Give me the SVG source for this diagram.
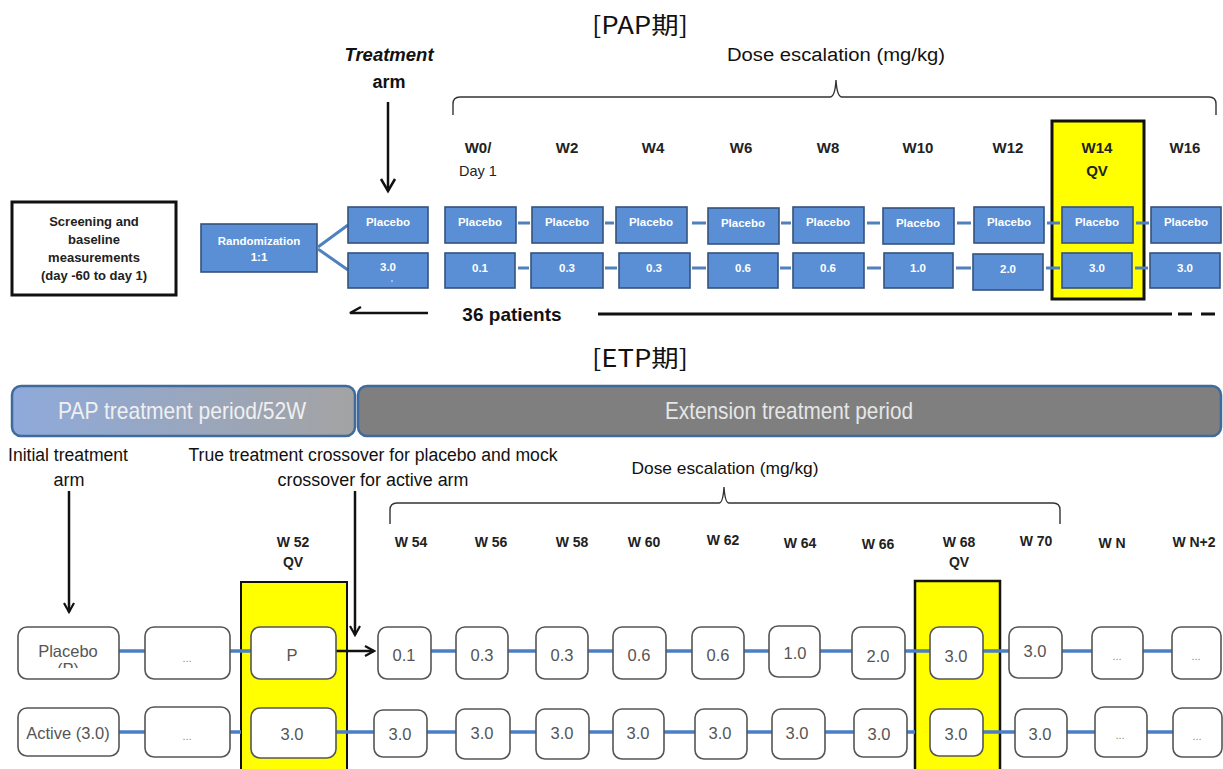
<svg xmlns="http://www.w3.org/2000/svg" width="1223" height="769" viewBox="0 0 1223 769">
<defs>
<style>
.t{font-family:"Liberation Sans",Arial,sans-serif;}
.cjk{font-family:"Noto Sans CJK JP","Noto Sans CJK SC",sans-serif;font-size:24px;fill:#111;}
.bb{fill:#5a8fd5;stroke:#34527c;stroke-width:1.6;}
.bt{font-family:"Liberation Sans",Arial,sans-serif;font-weight:bold;font-size:11.5px;fill:#fff;text-anchor:middle;}
.wh{font-family:"Liberation Sans",Arial,sans-serif;font-weight:bold;font-size:15px;fill:#222;text-anchor:middle;}
.wb{font-family:"Liberation Sans",Arial,sans-serif;font-weight:bold;font-size:14px;fill:#222;text-anchor:middle;}
.rb{fill:#fff;stroke:#555;stroke-width:1.6;}
.rt{font-family:"Liberation Sans",Arial,sans-serif;font-size:16.5px;fill:#555;text-anchor:middle;}
.dots{font-family:"Liberation Sans",Arial,sans-serif;font-size:11px;fill:#888;text-anchor:middle;}
.tc{stroke:#4f81bd;stroke-width:3;}
.bc{stroke:#4a7ec6;stroke-width:3.5;}
.yel{fill:#ffff00;stroke:#111;}
.arr{stroke:#111;stroke-width:2.5;fill:none;}
.brace{stroke:#333;stroke-width:1.4;fill:none;}
</style>
<linearGradient id="papg" x1="0" y1="0" x2="1" y2="0">
<stop offset="0" stop-color="#8eaadb"/>
<stop offset="1" stop-color="#a3a3a3"/>
</linearGradient>
<marker id="chev" viewBox="0 0 12 12" refX="10" refY="6" markerWidth="12" markerHeight="12" markerUnits="userSpaceOnUse" orient="auto">
<path d="M1,1 L10,6 L1,11" fill="none" stroke="#111" stroke-width="2.2"/>
</marker>
<clipPath id="pclip"><rect x="18" y="600" width="101" height="68"/></clipPath>
</defs>

<!-- ============ PAP period ============ -->
<text class="cjk" x="640" y="34" text-anchor="middle" textLength="96" lengthAdjust="spacingAndGlyphs">[PAP期]</text>

<g id="treatment-arm-label">
<text class="t" x="389" y="61" text-anchor="middle" font-weight="bold" font-style="italic" font-size="18.5" fill="#111">Treatment</text>
<text class="t" x="389" y="88" text-anchor="middle" font-weight="bold" font-size="18" fill="#111">arm</text>
</g>

<g id="dose-escalation-top">
<text class="t" x="836" y="61" text-anchor="middle" font-size="18" fill="#111" textLength="218" lengthAdjust="spacingAndGlyphs">Dose escalation (mg/kg)</text>
<path class="brace" d="M453,115 L453,104 Q453,97 460,97 L830,97 Q835,97 836,80 Q837,97 842,97 L1209,97 Q1216,97 1216,104 L1216,115"/>
</g>

<g id="screening">
<rect x="12" y="202" width="164" height="93" fill="#fff" stroke="#111" stroke-width="3"/>
<g class="t" font-weight="bold" font-size="13" fill="#222" text-anchor="middle">
<text x="94" y="226">Screening and</text>
<text x="94" y="244">baseline</text>
<text x="94" y="262">measurements</text>
<text x="94" y="280">(day -60 to day 1)</text>
</g>
</g>

<g id="randomization">
<rect class="bb" x="201" y="224" width="116" height="48"/>
<text class="bt" x="259" y="245" font-size="11">Randomization</text>
<text class="bt" x="259" y="261">1:1</text>
</g>

<!-- highlight W14 -->
<rect class="yel" x="1052" y="121" width="92" height="178" stroke-width="3"/>

<g id="top-headers">
<text class="wh" x="478" y="153">W0/</text>
<text class="t" x="478" y="176" text-anchor="middle" font-size="14.5" fill="#222">Day 1</text>
<text class="wh" x="567" y="153">W2</text>
<text class="wh" x="653" y="153">W4</text>
<text class="wh" x="741" y="153">W6</text>
<text class="wh" x="828" y="153">W8</text>
<text class="wh" x="918" y="153">W10</text>
<text class="wh" x="1008" y="153">W12</text>
<text class="wh" x="1097" y="153">W14</text>
<text class="wh" x="1097" y="176">QV</text>
<text class="wh" x="1185" y="153">W16</text>
</g>

<g id="top-connectors">
<path class="tc" d="M318,247 L348,225 M318,249 L348,270"/>
<path class="tc" d="M518,223 H530 M605,223 H614 M692,223 H706 M781,223 H791 M867,223 H880 M957,223 H971 M1047,223 H1060 M1136,223 H1149"/>
<path class="tc" d="M518,268 H529 M605,268 H617 M692,268 H706 M780,268 H791 M867,268 H881 M956,268 H971 M1046,268 H1060 M1135,268 H1148"/>
<path class="arr" d="M388,102 V191"/>
<path class="arr" d="M381,179 L388,191 L395,179" stroke-width="3"/>
<path class="arr" d="M428,313 H350 L361,307"/>
<path d="M598,314 H1172" stroke="#111" stroke-width="2.8"/>
<path d="M1178,314 H1192 M1201,314 H1215" stroke="#111" stroke-width="2.8"/>
</g>

<g id="arm-placebo"><rect class="bb" x="348" y="207" width="80" height="36"/><text class="bt" x="388" y="226">Placebo</text></g>
<g id="arm-active"><rect class="bb" x="348" y="253" width="80" height="35"/><text class="bt" x="388" y="271">3.0</text><circle cx="392" cy="281" r="0.8" fill="#fff"/></g>

<g id="top-w0"><rect class="bb" x="445" y="207" width="71" height="36"/><text class="bt" x="480" y="226">Placebo</text><rect class="bb" x="445" y="253" width="70" height="35"/><text class="bt" x="480" y="272">0.1</text></g>
<g id="top-w2"><rect class="bb" x="532" y="207" width="71" height="36"/><text class="bt" x="567" y="226">Placebo</text><rect class="bb" x="531" y="253" width="72" height="35"/><text class="bt" x="567" y="272">0.3</text></g>
<g id="top-w4"><rect class="bb" x="616" y="207" width="71" height="36"/><text class="bt" x="651" y="226">Placebo</text><rect class="bb" x="619" y="253" width="71" height="35"/><text class="bt" x="654" y="272">0.3</text></g>
<g id="top-w6"><rect class="bb" x="708" y="208" width="71" height="36"/><text class="bt" x="743" y="227">Placebo</text><rect class="bb" x="708" y="253" width="70" height="35"/><text class="bt" x="743" y="272">0.6</text></g>
<g id="top-w8"><rect class="bb" x="793" y="207" width="71" height="36"/><text class="bt" x="828" y="226">Placebo</text><rect class="bb" x="793" y="253" width="71" height="35"/><text class="bt" x="828" y="272">0.6</text></g>
<g id="top-w10"><rect class="bb" x="883" y="208" width="71" height="36"/><text class="bt" x="918" y="227">Placebo</text><rect class="bb" x="884" y="253" width="69" height="35"/><text class="bt" x="918" y="272">1.0</text></g>
<g id="top-w12"><rect class="bb" x="974" y="207" width="70" height="36"/><text class="bt" x="1009" y="226">Placebo</text><rect class="bb" x="973" y="254" width="70" height="36"/><text class="bt" x="1008" y="273">2.0</text></g>
<g id="top-w14"><rect class="bb" x="1062" y="207" width="71" height="36"/><text class="bt" x="1097" y="226">Placebo</text><rect class="bb" x="1062" y="253" width="70" height="35"/><text class="bt" x="1097" y="272">3.0</text></g>
<g id="top-w16"><rect class="bb" x="1151" y="207" width="70" height="36"/><text class="bt" x="1186" y="226">Placebo</text><rect class="bb" x="1150" y="253" width="70" height="35"/><text class="bt" x="1185" y="272">3.0</text></g>

<text class="t" x="512" y="321" text-anchor="middle" font-weight="bold" font-size="19" fill="#111">36 patients</text>

<!-- ============ ETP period ============ -->
<text class="cjk" x="640" y="367" text-anchor="middle" textLength="96" lengthAdjust="spacingAndGlyphs">[ETP期]</text>

<g id="pap-bar">
<rect x="12" y="386" width="343" height="50" rx="9" fill="url(#papg)" stroke="#3f6a9b" stroke-width="2.5"/>
<text class="t" x="182" y="419" text-anchor="middle" font-size="24" fill="#f0f0f0" textLength="248" lengthAdjust="spacingAndGlyphs">PAP treatment period/52W</text>
</g>
<g id="ext-bar">
<rect x="358" y="386" width="863" height="50" rx="9" fill="#7f7f7f" stroke="#3f6a9b" stroke-width="2.5"/>
<text class="t" x="789" y="419" text-anchor="middle" font-size="24" fill="#e6e6e6" textLength="248" lengthAdjust="spacingAndGlyphs">Extension treatment period</text>
</g>

<g id="initial-arm-label">
<text class="t" x="68" y="461" text-anchor="middle" font-size="18" fill="#111" textLength="120" lengthAdjust="spacingAndGlyphs">Initial treatment</text>
<text class="t" x="69" y="486" text-anchor="middle" font-size="18" fill="#111" textLength="31" lengthAdjust="spacingAndGlyphs">arm</text>
</g>
<g id="crossover-label">
<text class="t" x="373" y="461" text-anchor="middle" font-size="18" fill="#111" textLength="369" lengthAdjust="spacingAndGlyphs">True treatment crossover for placebo and mock</text>
<text class="t" x="373" y="486" text-anchor="middle" font-size="18" fill="#111" textLength="191" lengthAdjust="spacingAndGlyphs">crossover for active arm</text>
</g>
<g id="dose-escalation-bottom">
<text class="t" x="725" y="474" text-anchor="middle" font-size="17" fill="#111" textLength="187" lengthAdjust="spacingAndGlyphs">Dose escalation (mg/kg)</text>
<path class="brace" d="M390,524 L390,510 Q390,503 397,503 L719,503 Q723,503 724,487 Q725,503 729,503 L1053,503 Q1060,503 1060,510 L1060,524"/>
</g>

<g id="bottom-headers">
<text class="wb" x="293" y="547">W 52</text>
<text class="wb" x="293" y="567">QV</text>
<text class="wb" x="411" y="547">W 54</text>
<text class="wb" x="491" y="547">W 56</text>
<text class="wb" x="572" y="547">W 58</text>
<text class="wb" x="644" y="547">W 60</text>
<text class="wb" x="723" y="545">W 62</text>
<text class="wb" x="800" y="548">W 64</text>
<text class="wb" x="878" y="549">W 66</text>
<text class="wb" x="959" y="547">W 68</text>
<text class="wb" x="959" y="567">QV</text>
<text class="wb" x="1036" y="546">W 70</text>
<text class="wb" x="1112" y="548">W N</text>
<text class="wb" x="1194" y="547">W N+2</text>
</g>

<!-- highlights W52, W68 -->
<rect class="yel" x="241" y="582" width="106" height="190" stroke-width="2"/>
<rect class="yel" x="915" y="581" width="85" height="191" stroke-width="2.5"/>

<g id="bottom-connectors">
<path class="bc" d="M119,651 H145 M230,651 H251 M431,651 H456 M508,651 H536 M588,651 H613 M666,651 H692 M744,651 H769 M820,651 H852 M905,651 H930 M983,651 H1009 M1062,651 H1092 M1143,651 H1172"/>
<path class="bc" d="M119,732 H145 M230,732 H241 M336,732 H374 M427,732 H456 M510,732 H536 M589,732 H613 M664,732 H695 M747,732 H772 M825,732 H854 M907,732 H915 M983,732 H1015 M1067,732 H1095 M1147,732 H1173"/>
<path class="arr" d="M336,651 H374" marker-end="url(#chev)"/>
<path class="arr" d="M69,491 V612" marker-end="url(#chev)"/>
<path class="arr" d="M355,491 V635" marker-end="url(#chev)"/>
</g>

<g id="b-placebo"><rect class="rb" x="18" y="627" width="101" height="52" rx="9"/><text class="rt" x="68" y="657" font-size="15">Placebo</text><text class="rt" x="68" y="675" font-size="13" clip-path="url(#pclip)">(P)</text></g>
<g id="b-dots1"><rect class="rb" x="145" y="627" width="85" height="52" rx="9"/><text class="dots" x="187" y="662">...</text></g>
<g id="b-p"><rect class="rb" x="251" y="627" width="85" height="52" rx="9"/><text class="rt" x="292" y="661">P</text></g>
<g id="b-w54"><rect class="rb" x="378" y="627" width="53" height="52" rx="9"/><text class="rt" x="404" y="661">0.1</text></g>
<g id="b-w56"><rect class="rb" x="456" y="627" width="52" height="52" rx="9"/><text class="rt" x="482" y="661">0.3</text></g>
<g id="b-w58"><rect class="rb" x="536" y="627" width="52" height="52" rx="9"/><text class="rt" x="562" y="661">0.3</text></g>
<g id="b-w60"><rect class="rb" x="613" y="627" width="53" height="52" rx="9"/><text class="rt" x="639" y="661">0.6</text></g>
<g id="b-w62"><rect class="rb" x="692" y="627" width="52" height="52" rx="9"/><text class="rt" x="718" y="661">0.6</text></g>
<g id="b-w64"><rect class="rb" x="769" y="626" width="51" height="51" rx="9"/><text class="rt" x="795" y="659">1.0</text></g>
<g id="b-w66"><rect class="rb" x="852" y="627" width="53" height="52" rx="9"/><text class="rt" x="878" y="662">2.0</text></g>
<g id="b-w68"><rect class="rb" x="930" y="627" width="53" height="52" rx="9"/><text class="rt" x="956" y="662">3.0</text></g>
<g id="b-w70"><rect class="rb" x="1009" y="627" width="53" height="51" rx="9"/><text class="rt" x="1035" y="657">3.0</text></g>
<g id="b-wn"><rect class="rb" x="1092" y="627" width="51" height="52" rx="9"/><text class="dots" x="1117" y="660">...</text></g>
<g id="b-wn2"><rect class="rb" x="1172" y="627" width="49" height="52" rx="9"/><text class="dots" x="1196" y="660">...</text></g>

<g id="a-active"><rect class="rb" x="18" y="708" width="101" height="48" rx="9"/><text class="rt" x="68" y="739" font-size="15">Active (3.0)</text></g>
<g id="a-dots1"><rect class="rb" x="145" y="707" width="85" height="50" rx="9"/><text class="dots" x="187" y="740">...</text></g>
<g id="a-w52"><rect class="rb" x="251" y="708" width="85" height="50" rx="9"/><text class="rt" x="292" y="740">3.0</text></g>
<g id="a-w54"><rect class="rb" x="374" y="710" width="53" height="47" rx="9"/><text class="rt" x="400" y="740">3.0</text></g>
<g id="a-w56"><rect class="rb" x="456" y="709" width="54" height="50" rx="9"/><text class="rt" x="482" y="739">3.0</text></g>
<g id="a-w58"><rect class="rb" x="536" y="709" width="53" height="50" rx="9"/><text class="rt" x="562" y="739">3.0</text></g>
<g id="a-w60"><rect class="rb" x="613" y="709" width="51" height="50" rx="9"/><text class="rt" x="638" y="739">3.0</text></g>
<g id="a-w62"><rect class="rb" x="695" y="709" width="52" height="50" rx="9"/><text class="rt" x="720" y="739">3.0</text></g>
<g id="a-w64"><rect class="rb" x="772" y="709" width="53" height="50" rx="9"/><text class="rt" x="797" y="739">3.0</text></g>
<g id="a-w66"><rect class="rb" x="854" y="709" width="53" height="48" rx="9"/><text class="rt" x="879" y="740">3.0</text></g>
<g id="a-w68"><rect class="rb" x="930" y="709" width="53" height="47" rx="9"/><text class="rt" x="956" y="740">3.0</text></g>
<g id="a-w70"><rect class="rb" x="1015" y="709" width="52" height="48" rx="9"/><text class="rt" x="1040" y="740">3.0</text></g>
<g id="a-wn"><rect class="rb" x="1095" y="707" width="52" height="50" rx="9"/><text class="dots" x="1120" y="739">...</text></g>
<g id="a-wn2"><rect class="rb" x="1173" y="708" width="49" height="49" rx="9"/><text class="dots" x="1197" y="740">...</text></g>
</svg>
